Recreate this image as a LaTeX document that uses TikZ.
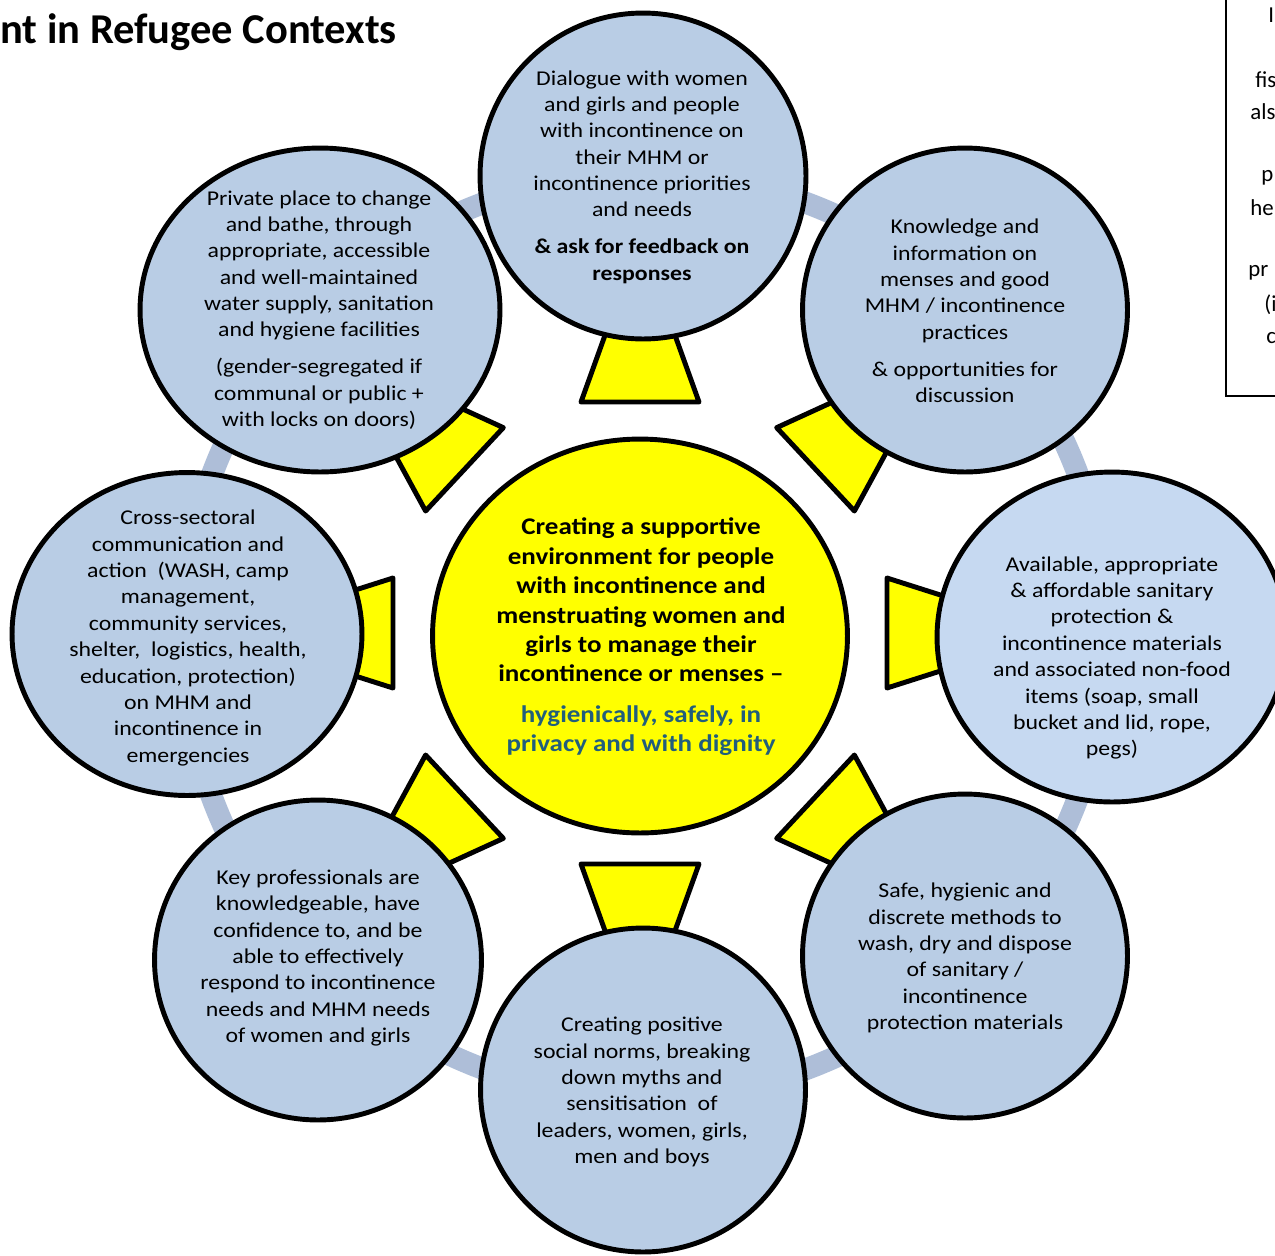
\documentclass[tikz,border=0pt]{standalone}
\usepackage{fontspec}
\setmainfont{Carlito}
\newfontfamily\widefont{Carlito}[FakeStretch=1.13]
\usepackage{tikz}
\usetikzlibrary{shapes.geometric}
\usetikzlibrary{positioning}

\definecolor{bubblefill}{HTML}{B9CDE5}
\definecolor{bubblelight}{HTML}{C6D9F1}
\definecolor{ringblue}{HTML}{AEBED8}
\definecolor{aimblue}{HTML}{215E7C}
\definecolor{aimyellow}{HTML}{FFFF00}

\begin{document}
\begin{tikzpicture}
          [x=0.02cm, y=0.02cm,
           bubble/.style={draw, ellipse, line width=2.8pt, fill=bubblefill, inner sep=0pt},
           txt/.style={align=center, inner sep=0pt, font=\widefont\fontsize{12}{15}\selectfont},
           wedge/.style={draw, line width=2.8pt, fill=aimyellow, line join=round},
           frag/.style={anchor=west, inner sep=0pt, font=\fontsize{13}{16}\selectfont}]
          \useasboundingbox (0,0) rectangle (1275,-1255);

          \coordinate (ctr) at (640,-633);

          % ring behind everything
          \draw[ringblue, line width=12.5pt] (645,-636) circle (462);

          % yellow wedges, wide side towards the middle
          \draw[wedge, shift={(ctr)}, rotate=90]  (231,-59) -- (320,-27) -- (320,27) -- (231,59) -- cycle;
          \draw[wedge, shift={(ctr)}, rotate=43]  (240,-57) -- (330,-27) -- (330,27) -- (240,57) -- cycle;
          \draw[wedge, shift={(ctr)}, rotate=0]   (247,-55) -- (335,-27) -- (335,27) -- (247,55) -- cycle;
          \draw[wedge, shift={(ctr)}, rotate=-43] (240,-57) -- (330,-27) -- (330,27) -- (240,57) -- cycle;
          \draw[wedge, shift={(ctr)}, rotate=-90] (231,-59) -- (320,-27) -- (320,27) -- (231,59) -- cycle;
          \draw[wedge, shift={(ctr)}, rotate=-137] (240,-57) -- (330,-27) -- (330,27) -- (240,57) -- cycle;
          \draw[wedge, shift={(ctr)}, rotate=180] (247,-55) -- (335,-27) -- (335,27) -- (247,55) -- cycle;
          \draw[wedge, shift={(ctr)}, rotate=137] (240,-57) -- (330,-27) -- (330,27) -- (240,57) -- cycle;

          % outer circles
          \node[bubble, minimum width=6.52cm, minimum height=6.52cm] (dialogue) at (643,-176) {};
          \node[bubble, minimum width=6.5cm, minimum height=6.48cm] (knowledge) at (965,-310) {};
          \node[bubble, fill=bubblelight, minimum width=7cm, minimum height=6.6cm] (supplies) at (1112,-637) {};
          \node[bubble, minimum width=6.5cm, minimum height=6.48cm] (disposal) at (965,-956) {};
          \node[bubble, minimum width=6.5cm, minimum height=6.48cm] (norms) at (643,-1090) {};
          \node[bubble, minimum width=6.54cm, minimum height=6.4cm] (training) at (318,-960) {};
          \node[bubble, minimum width=7cm, minimum height=6.46cm] (crosssector) at (187,-634) {};
          \node[bubble, minimum width=7.2cm, minimum height=6.48cm] (privacy) at (320,-310) {};

          % middle
          \node[draw, ellipse, line width=2.8pt, fill=aimyellow, minimum width=8.3cm, minimum height=7.88cm] (goal) at (640,-636) {};

          \node[txt] (dialoguetext) at (642,-177) {Dialogue with women\\ and girls and people\\ with incontinence on\\ their MHM or\\ incontinence priorities\\ and needs\\[6pt] \textbf{\& ask for feedback on}\\ \textbf{responses}};
          \node[txt] (knowledgetext) at (965,-311) {Knowledge and\\ information on\\ menses and good\\ MHM / incontinence\\ practices\\[6pt] \& opportunities for\\ discussion};
          \node[txt] (suppliestext) at (1112,-658) {Available, appropriate\\ \& affordable sanitary\\ protection \&\\ incontinence materials\\ and associated non-food\\ items (soap, small\\ bucket and lid, rope,\\ pegs)};
          \node[txt] (disposaltext) at (965,-958) {Safe, hygienic and\\ discrete methods to\\ wash, dry and dispose\\ of sanitary /\\ incontinence\\ protection materials};
          \node[txt] (normstext) at (642,-1092) {Creating positive\\ social norms, breaking\\ down myths and\\ sensitisation\ \ of\\ leaders, women, girls,\\ men and boys};
          \node[txt] (trainingtext) at (318,-958) {Key professionals are\\ knowledgeable, have\\ confidence to, and be\\ able to effectively\\ respond to incontinence\\ needs and MHM needs\\ of women and girls};
          \node[txt] (crosssectortext) at (188,-638) {Cross-sectoral\\ communication and\\ action\ \ (WASH, camp\\ management,\\ community services,\\ shelter,\ \ logistics, health,\\ education, protection)\\ on MHM and\\ incontinence in\\ emergencies};
          \node[txt] (privacytext) at (319,-310) {Private place to change\\ and bathe, through\\ appropriate, accessible\\ and well-maintained\\ water supply, sanitation\\ and hygiene facilities\\[6pt] (gender-segregated if\\ communal or public +\\ with locks on doors)};

          \node[txt, font=\widefont\fontsize{13.6}{16.7}\selectfont\bfseries] (goaltext) at (641,-637) {Creating a supportive\\ environment for people\\ with incontinence and\\ menstruating women and\\ girls to manage their\\ incontinence or menses –\\[6.5pt] \textcolor{aimblue}{hygienically, safely, in}\\ \textcolor{aimblue}{privacy and with dignity}};

          % title and the note box, both cut by the page edge
          \node[anchor=base west, inner sep=0pt, font=\fontsize{24.2}{28}\selectfont\bfseries] (title) at (0,-43) {nt in Refugee Contexts};
          \draw[line width=1.1pt] (1300,10) -- (1226,10) -- (1226,-396) -- (1300,-396);
          \node[frag] (note1) at (1268,-15) {I};
          \node[frag] (note2) at (1255,-80) {fis};
          \node[frag] (note3) at (1250,-112) {als};
          \node[frag] (note4) at (1261,-178) {p};
          \node[frag] (note5) at (1250,-208) {he};
          \node[frag] (note6) at (1248,-273) {pr};
          \node[frag] (note7) at (1264,-305) {(i};
          \node[frag] (note8) at (1266,-338) {c};
        \end{tikzpicture}
\end{document}
